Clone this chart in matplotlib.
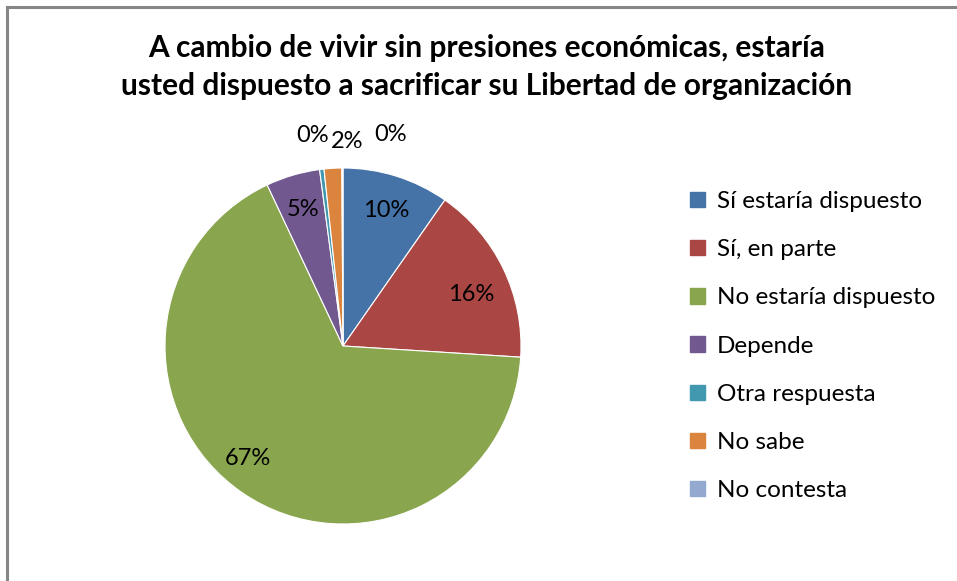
import matplotlib
matplotlib.use("Agg")
import matplotlib.pyplot as plt
from matplotlib.patches import Patch
from matplotlib.lines import Line2D
import numpy as np

plt.rcParams['font.family'] = ['Lato', 'DejaVu Sans']

title = "A cambio de vivir sin presiones económicas, estaría\nusted dispuesto a sacrificar su Libertad de organización"
categories = ["Sí estaría dispuesto", "Sí, en parte", "No estaría dispuesto",
              "Depende", "Otra respuesta", "No sabe", "No contesta"]
values = [9.7, 16.3, 67.0, 4.9, 0.4, 1.6, 0.1]
colors = ["#4572A7", "#AA4643", "#89A54E", "#71588F", "#4198AF", "#DB843D", "#93A9CF"]

W, H = 957, 581
fig = plt.figure(figsize=(W / 100, H / 100), dpi=100)

# frame lines (left and top)
fig.add_artist(Line2D([7 / W, 7 / W], [0, 1 - 7 / H], color="#868686", lw=2.2, transform=fig.transFigure))
fig.add_artist(Line2D([7 / W, 1], [1 - 7 / H, 1 - 7 / H], color="#868686", lw=2.2, transform=fig.transFigure))

cx, cy, r = 343, 346, 178
k = 1.3
half = k * r
ax = fig.add_axes([(cx - half) / W, (H - cy - half) / H, 2 * half / W, 2 * half / H])

wedges, _ = ax.pie(values, colors=colors, startangle=90, counterclock=False,
                   radius=1.0, wedgeprops=dict(edgecolor="white", linewidth=0.8))
ax.set_xlim(-k, k)
ax.set_ylim(-k, k)
ax.axis("off")

# labels: (dx, dy shift, radial distance) per slice
total = sum(values)
cum = 0
label_layout = {0: (0.0, 0.0, 0.8), 1: (0.0, -0.056, 0.8), 2: (-0.084, 0.028, 0.8),
                3: (0.0, 0.0, 0.8), 4: (-0.03, 0.0, 1.19), 5: (0.09, 0.0, 1.15),
                6: (0.27, 0.0, 1.19)}
for i, v in enumerate(values):
    mid = (cum + v / 2) / total
    cum += v
    ang = np.deg2rad(90 - 360 * mid)
    txt = f"{round(v):.0f}%"
    dx, dy, rr = label_layout[i]
    x = rr * np.cos(ang) + dx
    y = rr * np.sin(ang) + dy
    ax.text(x, y, txt, ha="center", va="center", fontsize=17, color="black")

fig.text(487 / W, 1 - 67 / H, title, ha="center", va="center", fontsize=21.5,
         fontweight="bold", linespacing=1.42)

handles = [Patch(facecolor=c, edgecolor=c) for c in colors]
fig.legend(handles, categories, loc="upper left", bbox_to_anchor=(690 / W, 1 - 191 / H),
           frameon=False, fontsize=17.5, labelspacing=1.12, handlelength=0.6,
           handleheight=0.6, handletextpad=0.5, borderaxespad=0, borderpad=0)

fig.savefig("out.png", dpi=100, facecolor="white")
